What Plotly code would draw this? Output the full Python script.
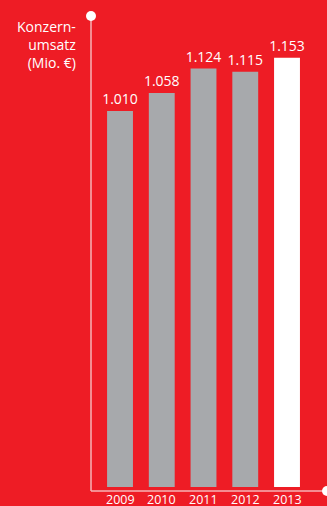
import plotly.graph_objects as go

# Konzernumsatz in Mio. €
years = ["2009", "2010", "2011", "2012", "2013"]
revenue = [1010, 1058, 1124, 1115, 1153]
labels = ["1.010", "1.058", "1.124", "1.115", "1.153"]
bar_colors = ["#A7A9AC", "#A7A9AC", "#A7A9AC", "#A7A9AC", "#FFFFFF"]

RED = "#EE1C25"
LINE = "#F6B3B6"
FONT = "Open Sans"

positions = list(range(len(years)))

fig = go.Figure(
    go.Bar(
        x=positions,
        y=revenue,
        marker=dict(color=bar_colors, line=dict(width=0)),
        width=0.62,
        text=labels,
        textposition="outside",
        constraintext="none",
        textfont=dict(family=FONT, size=14, color="white"),
        cliponaxis=False,
    )
)

# year labels below the baseline
year_annotations = [
    dict(
        text=yr, x=pos, xref="x", y=0, yref="paper",
        xanchor="center", yanchor="top", yshift=2,
        showarrow=False,
        font=dict(family=FONT, size=12.5, color="white"),
    )
    for pos, yr in zip(positions, years)
]

fig.update_layout(
    width=327,
    height=506,
    margin=dict(l=91, r=0, t=16, b=15, autoexpand=False),
    paper_bgcolor=RED,
    plot_bgcolor=RED,
    showlegend=False,
    xaxis=dict(
        range=[-0.695, 4.958],
        showticklabels=False,
        automargin=False,
        showgrid=False,
        zeroline=False,
        showline=False,
        ticks="",
        fixedrange=True,
    ),
    yaxis=dict(
        range=[-10.7, 1265],
        automargin=False,
        showgrid=False,
        zeroline=False,
        showline=False,
        showticklabels=False,
        ticks="",
        fixedrange=True,
    ),
    shapes=[
        # vertical axis line
        dict(type="line", xref="paper", yref="paper", x0=0, x1=0, y0=0, y1=1,
             line=dict(color=LINE, width=1.5)),
        # horizontal baseline
        dict(type="line", xref="paper", yref="paper", x0=0, x1=1, y0=0, y1=0,
             line=dict(color=LINE, width=1.5)),
        # dot at the top of the vertical axis
        dict(type="circle", xref="paper", yref="paper",
             xsizemode="pixel", ysizemode="pixel", xanchor=0, yanchor=1,
             x0=-5, x1=5, y0=-5, y1=5,
             fillcolor="white", line=dict(width=0)),
        # dot at the end of the baseline
        dict(type="circle", xref="paper", yref="paper",
             xsizemode="pixel", ysizemode="pixel", xanchor=1, yanchor=0,
             x0=-5, x1=5, y0=-5, y1=5,
             fillcolor="white", line=dict(width=0)),
    ],
    annotations=[
        dict(
            text="Konzern-<br>umsatz<br>(Mio. €)",
            xref="paper", yref="paper", x=0, y=1,
            xanchor="right", yanchor="top", align="right",
            xshift=-13, yshift=1,
            showarrow=False,
            font=dict(family=FONT, size=14, color="white"),
        )
    ] + year_annotations,
)

fig.write_html("out.html")
